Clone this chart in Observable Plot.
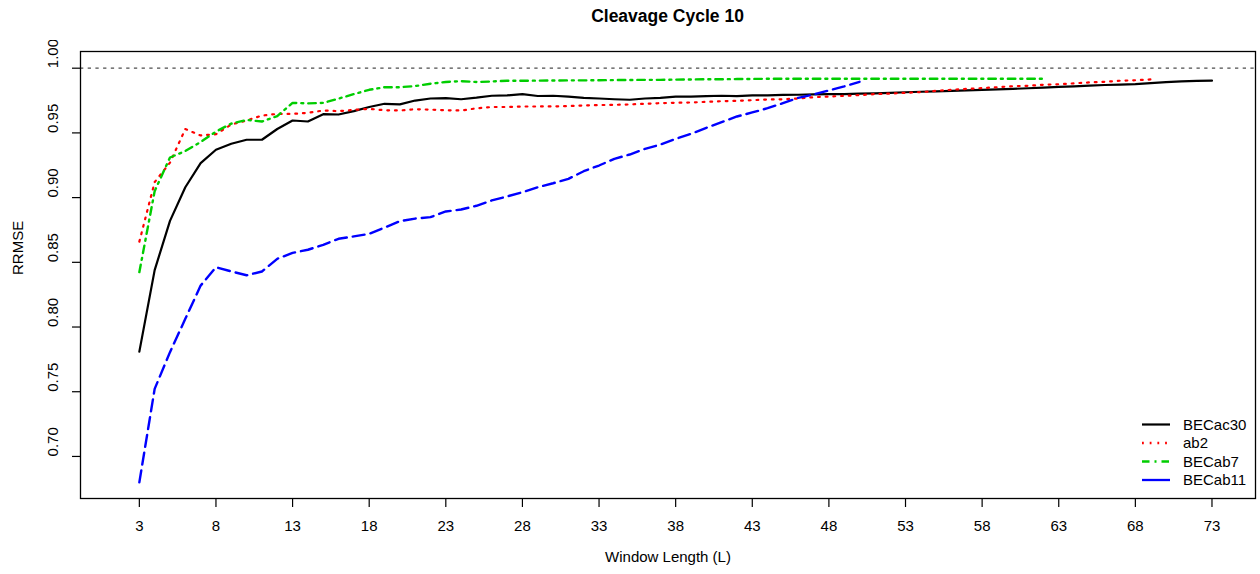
<!DOCTYPE html>
<html><head><meta charset="utf-8">
<script src="https://cdn.jsdelivr.net/npm/d3@7"></script>
<script src="https://cdn.jsdelivr.net/npm/@observablehq/plot@0.6"></script>
<style>
body{margin:0;background:#fff;font-family:"Liberation Sans",Arial,Helvetica,sans-serif;}
#wrap{position:relative;width:1260px;height:574px;overflow:hidden;}
#title{position:absolute;top:0;left:80px;width:1175px;height:40px;line-height:32px;text-align:center;font-weight:bold;font-size:17.5px;color:#000;}
#chart{position:absolute;top:40px;left:0;}
#legend{position:absolute;top:0;left:0;pointer-events:none;}
</style></head><body>
<div id="wrap"><div id="title">Cleavage Cycle 10</div><div id="chart"></div></div>
<script>
const seriesNames = ["BECac30", "ab2", "BECab7", "BECab11"];
const seriesColors = ["#000000", "#FF0000", "#00CD00", "#0000FF"];
const xTicks = [3, 8, 13, 18, 23, 28, 33, 38, 43, 48, 53, 58, 63, 68, 73];
const yTicks = [0.70, 0.75, 0.80, 0.85, 0.90, 0.95, 1.00];

const BECac30 = [0.781,0.844,0.882,0.908,0.9266,0.937,0.9416,0.9447,0.9447,0.953,
0.9596,0.9588,0.9645,0.9642,0.9668,0.970,0.9725,0.972,0.975,0.9766,
0.9768,0.976,0.9772,0.9787,0.979,0.980,0.9785,0.9787,0.978,0.977,
0.9766,0.976,0.9756,0.9766,0.977,0.978,0.978,0.9784,0.9787,0.9784,
0.979,0.979,0.9794,0.9795,0.9797,0.9799,0.980,0.9803,0.9806,0.981,
0.9814,0.9818,0.9821,0.9824,0.9828,0.9832,0.9836,0.984,0.9845,0.985,
0.9855,0.986,0.9865,0.987,0.9873,0.9877,0.9884,0.9892,0.9898,0.9902,0.9904];
const ab2 = [0.866,0.912,0.927,0.953,0.948,0.949,0.9565,0.9596,0.9634,0.9647,
0.9647,0.9655,0.9673,0.9668,0.9678,0.9686,0.9675,0.9673,0.9683,0.968,
0.9675,0.9673,0.969,0.970,0.970,0.9704,0.9704,0.9705,0.9707,0.9712,
0.9715,0.9717,0.972,0.9725,0.973,0.9733,0.9735,0.974,0.9745,0.9748,
0.9753,0.9758,0.976,0.9766,0.9776,0.9781,0.9786,0.9792,0.980,0.9804,
0.981,0.9815,0.9825,0.9833,0.984,0.9846,0.9853,0.9861,0.9864,0.9872,
0.9876,0.9883,0.989,0.9895,0.9903,0.9907,0.9913];
const BECab7 = [0.8424,0.905,0.931,0.936,0.943,0.951,0.9572,0.9600,0.9588,0.963,
0.9732,0.9728,0.9732,0.9765,0.980,0.9833,0.9853,0.9853,0.9862,0.988,
0.9893,0.990,0.9893,0.9897,0.9903,0.9903,0.9904,0.9905,0.9906,0.9906,
0.9907,0.9908,0.9909,0.991,0.991,0.9912,0.9913,0.9915,0.9915,0.9916,
0.9917,0.9918,0.9918,0.9918,0.9918,0.9918,0.9918,0.9918,0.9918,0.9918,
0.9918,0.9918,0.9918,0.9918,0.9918,0.9918,0.9918,0.9918,0.9918,0.9918];
const BECab11 = [0.680,0.7522,0.7806,0.8063,0.832,0.8462,0.843,0.840,0.8429,0.8527,
0.8573,0.8597,0.8635,0.8682,0.870,0.872,0.8768,0.8818,0.8838,0.8849,
0.8893,0.8908,0.8937,0.8978,0.9009,0.9042,0.908,0.9111,0.9145,0.9204,
0.9248,0.930,0.9333,0.9377,0.941,0.9454,0.9493,0.9539,0.9583,0.9627,
0.9658,0.9691,0.973,0.9771,0.9797,0.9828,0.9859,0.9895];
const startL = 3;
const refLine = [1.0];

const toRows = arr => arr.map((v, i) => ({L: startL + i, v}));
const rows = [BECac30, ab2, BECab7, BECab11].map(toRows);

const dotDash = "1.8,5.9";
const dotDashGreen = "7.5,5,2,5";
const styles = [
  {stroke: seriesColors[0], strokeWidth: 2.2},
  {stroke: seriesColors[1], strokeWidth: 2.2, strokeDasharray: dotDash},
  {stroke: seriesColors[2], strokeWidth: 2.4, strokeDasharray: dotDashGreen},
  {stroke: seriesColors[3], strokeWidth: 2.4, strokeDasharray: "12,6"}
];

const font = "Liberation Sans, Arial, Helvetica, sans-serif";
const chart = Plot.plot({
  width: 1260, height: 534,
  marginLeft: 80, marginRight: 5, marginTop: 11, marginBottom: 76,
  style: {fontFamily: font, fontSize: "15px", color: "#000", background: "#fff"},
  x: {domain: [-0.84, 75.84]},
  y: {domain: [0.6675, 1.0129]},
  marks: [
    Plot.ruleY(refLine, {stroke: "#4d4d4d", strokeWidth: 1.2, strokeDasharray: "3.3,4.4"}),
    ...rows.map((r, i) => Plot.line(r, {x: "L", y: "v", ...styles[i], strokeLinejoin: "round"})),
    Plot.frame({stroke: "#000", strokeWidth: 1.3}),
    Plot.axisX({ticks: xTicks, tickSize: 9, tickPadding: 13, tickFormat: d => String(d), label: null, fontSize: 15, strokeWidth: 1.2}),
    Plot.axisY({ticks: yTicks, tickSize: 8, tickFormat: () => "", label: null, strokeWidth: 1.2}),
    Plot.text(yTicks, {y: d => d, text: d => d.toFixed(2), frameAnchor: "left", dx: -27, rotate: -90, fontSize: 15}),
    Plot.text(["RRMSE"], {text: d => d, frameAnchor: "left", dx: -62, rotate: -90, fontSize: 15}),
    Plot.text(["Window Length (L)"], {text: d => d, frameAnchor: "bottom", dy: 63.7, fontSize: 15})
  ]
});
document.getElementById("chart").appendChild(chart);

// legend (inside plot, bottom-right, no box)
const ns = "http://www.w3.org/2000/svg";
const leg = document.createElementNS(ns, "svg");
leg.setAttribute("id", "legend");
leg.setAttribute("width", 1260); leg.setAttribute("height", 574);
const rowY = [424.5, 443, 461.5, 480];
const legendDash = [null, dotDash, dotDashGreen, null];
seriesNames.forEach((name, i) => {
  const ln = document.createElementNS(ns, "line");
  ln.setAttribute("x1", 1142); ln.setAttribute("x2", 1170);
  ln.setAttribute("y1", rowY[i]); ln.setAttribute("y2", rowY[i]);
  ln.setAttribute("stroke", seriesColors[i]);
  ln.setAttribute("stroke-width", i === 0 ? 2.2 : 2.3);
  if (legendDash[i]) ln.setAttribute("stroke-dasharray", legendDash[i]);
  leg.appendChild(ln);
  const tx = document.createElementNS(ns, "text");
  tx.setAttribute("x", 1183); tx.setAttribute("y", rowY[i]);
  tx.setAttribute("dy", "0.35em");
  tx.setAttribute("font-size", 15);
  tx.setAttribute("font-family", font);
  tx.textContent = name;
  leg.appendChild(tx);
});
document.getElementById("wrap").appendChild(leg);
</script>
</body></html>
